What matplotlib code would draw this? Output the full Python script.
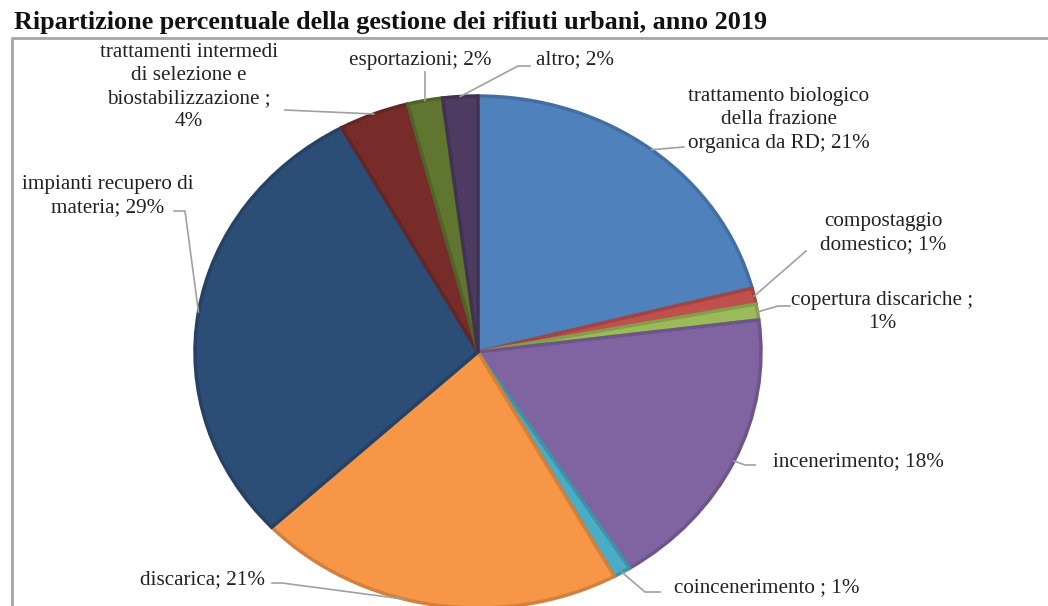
import numpy as np
import matplotlib
matplotlib.use("Agg")
import matplotlib.pyplot as plt
from matplotlib.lines import Line2D
from matplotlib.patches import Rectangle
from matplotlib.colors import to_rgb

# Share of municipal waste by management route, 2019 (%)
categories = [
    "trattamento biologico\ndella frazione\norganica da RD",
    "compostaggio\ndomestico",
    "copertura discariche ;\n",
    "incenerimento",
    "coincenerimento ",
    "discarica",
    "impianti recupero di\nmateria",
    "trattamenti intermedi\ndi selezione e\nbiostabilizzazione ;\n",
    "esportazioni",
    "altro",
]
values = [21, 1, 1, 18, 1, 21, 29, 4, 2, 2]
colors = ["#4F81BD", "#C0504D", "#9BBB59", "#8064A2", "#4BACC6",
          "#F79646", "#2C4D75", "#772C2A", "#5F7530", "#4D3B62"]

W, H = 1048, 606
fig = plt.figure(figsize=(W / 100, H / 100), dpi=100)
fig.patch.set_facecolor("white")

# pie geometry in pixels (slightly stretched horizontally)
cx, cy, rx, ry = 478, 352, 283, 256
ax = fig.add_axes([0, 0, 1, 1])


def darker(c, f=0.85):
    r, g, b = to_rgb(c)
    return (r * f, g * f, b * f)


wedges, _ = ax.pie(values, colors=colors, startangle=90, counterclock=False,
                   radius=1.0, wedgeprops=dict(linewidth=2.5, joinstyle="miter"))
for w, c in zip(wedges, colors):
    w.set_edgecolor(darker(c))
    w.set_clip_on(False)

ax.set_aspect("auto")
ax.set_xlim(-cx / rx, (W - cx) / rx)
ax.set_ylim(-(H - cy) / ry, cy / ry)
ax.axis("off")

# chart frame
frame = Rectangle((12 / W, -0.2), 1.2, 1.2 - 38 / H, transform=fig.transFigure,
                  fill=False, edgecolor="#A6A6A6", linewidth=2, clip_on=False)
fig.add_artist(frame)


def fpx(x, y):
    return (x / W, 1 - y / H)


fig.text(*fpx(14, 22), "Ripartizione percentuale della gestione dei rifiuti urbani, anno 2019",
         fontsize=18.8, fontweight="bold", family="Liberation Serif",
         ha="left", va="center", color="#111111")

# label layout: text centre (px), leader stub start (px), position within wedge
layout = [
    ((779, 120), [(684, 147)], 0.5),
    ((883, 233), [(806, 251)], 0.5),
    ((882, 312), [(790, 306), (778, 306)], 0.5),
    ((858, 462), [(755, 465), (745, 465)], 0.5),
    ((767, 588), [(660, 592), (645, 592)], 0.5),
    ((203, 580), [(272, 583), (282, 583)], 0.58),
    ((108, 196), [(174, 211), (185, 211)], 0.5),
    ((189, 87), [(285, 110)], 0.5),
    ((420, 60), [(425, 72)], 0.5),
    ((575, 60), [(530, 66), (518, 66)], 0.5),
]

fig.canvas.draw()
total = sum(values)
for w, cat, v, (tc, stub, frac) in zip(wedges, categories, values, layout):
    pct = round(100 * v / total)
    label = f"{cat}{pct}%" if cat.endswith("\n") else f"{cat}; {pct}%"
    fig.text(*fpx(*tc), label, fontsize=15.2, family="Liberation Serif",
             ha="center", va="center", color="#222222", linespacing=1.3)
    # anchor on the rim of the wedge
    ang = np.deg2rad(w.theta2 - frac * (w.theta2 - w.theta1))
    disp = ax.transData.transform((np.cos(ang), np.sin(ang)))
    ax_fig = fig.transFigure.inverted().transform(disp)
    pts = [fpx(*p) for p in stub] + [tuple(ax_fig)]
    xs, ys = zip(*pts)
    fig.add_artist(Line2D(xs, ys, transform=fig.transFigure,
                          color="#A0A0A0", linewidth=1.2))

fig.savefig("out.png", dpi=100)
